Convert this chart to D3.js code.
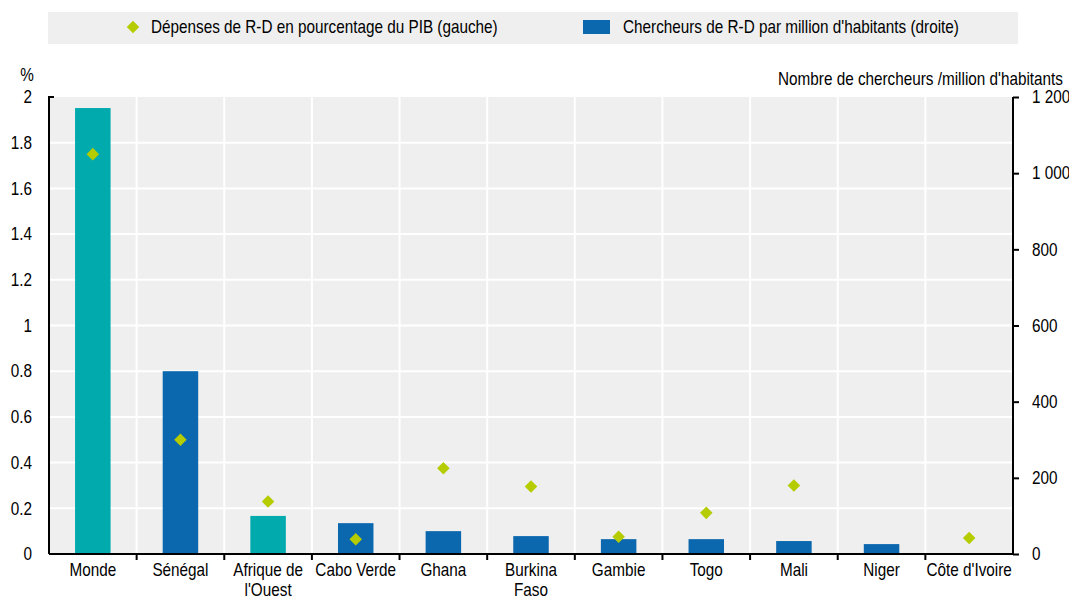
<!DOCTYPE html>
<html lang="fr">
<head>
<meta charset="utf-8">
<script src="https://cdn.jsdelivr.net/npm/d3@7"></script>
<style>
  html, body { margin: 0; padding: 0; background: #ffffff; }
  svg { display: block; }
  text { font-family: "Liberation Sans", Arial, sans-serif; fill: #000; }
</style>
</head>
<body>
<svg id="chart" width="1069" height="598"></svg>
<script>
// Pays et régions, dans l'ordre d'affichage
const categories = ["Monde", "Sénégal", "Afrique de l'Ouest", "Cabo Verde", "Ghana",
  "Burkina Faso", "Gambie", "Togo", "Mali", "Niger", "Côte d'Ivoire"];
// Libellés de l'axe des catégories (retour à la ligne)
const categoryLabels = [["Monde"], ["Sénégal"], ["Afrique de", "l'Ouest"], ["Cabo Verde"], ["Ghana"],
  ["Burkina", "Faso"], ["Gambie"], ["Togo"], ["Mali"], ["Niger"], ["Côte d'Ivoire"]];
// Chercheurs de R-D par million d'habitants (axe de droite)
const researchers = [1171, 480, 100, 81, 60, 47, 39, 39, 34, 26, null];
// Dépenses de R-D en % du PIB (axe de gauche)
const rdSpending = [1.75, 0.50, 0.23, 0.065, 0.375, 0.295, 0.075, 0.18, 0.30, null, 0.07];
// Agrégats affichés dans une couleur distincte
const aggregates = ["Monde", "Afrique de l'Ouest"];
// Graduations
const leftTicks = [0, 0.2, 0.4, 0.6, 0.8, 1, 1.2, 1.4, 1.6, 1.8, 2];
const rightTicks = [0, 200, 400, 600, 800, 1000, 1200];

const svg = d3.select("#chart");
const plot = { left: 49, right: 1013, top: 97, bottom: 554 };
const FS = 18;       // taille du texte
const SX = 0.85;     // compression horizontale (aspect « narrow »)
const TEAL = "#00aaad", BLUE = "#0b67ae", LIME = "#b5cc00", PANEL = "#efefef";

const x = d3.scaleBand().domain(categories).range([plot.left, plot.right]).padding(0);
const yLeft = d3.scaleLinear().domain([0, 2]).range([plot.bottom, plot.top]);
const yRight = d3.scaleLinear().domain([0, 1200]).range([plot.bottom, plot.top]);

const fmtLeft = d => String(d);
const fmtRight = d => d3.format(",")(d).replace(/,/g, " ");

// Texte condensé positionné en (tx, ty)
function label(parent, tx, ty, str, anchor = "start") {
  const g = parent.append("g").attr("transform", `translate(${tx},${ty}) scale(${SX},1)`);
  return g.append("text").attr("font-size", FS).attr("text-anchor", anchor).text(str);
}

// Légende
const legend = svg.append("g");
legend.append("rect").attr("x", 48).attr("y", 12).attr("width", 970).attr("height", 32).attr("fill", PANEL);
legend.append("path")
  .attr("d", d3.symbol(d3.symbolDiamond2, 100)())
  .attr("transform", "translate(133,27)")
  .attr("fill", LIME);
label(legend, 151, 33, "Dépenses de R-D en pourcentage du PIB (gauche)");
legend.append("rect").attr("x", 583).attr("y", 20).attr("width", 27).attr("height", 14).attr("fill", BLUE);
label(legend, 623, 33, "Chercheurs de R-D par million d'habitants (droite)");

// Fond de la zone de tracé
svg.append("rect")
  .attr("x", plot.left).attr("y", plot.top)
  .attr("width", plot.right - plot.left).attr("height", plot.bottom - plot.top)
  .attr("fill", PANEL);

// Quadrillage horizontal
svg.append("g").selectAll("line").data(leftTicks.slice(1, -1)).join("line")
  .attr("x1", plot.left).attr("x2", plot.right)
  .attr("y1", d => yLeft(d)).attr("y2", d => yLeft(d))
  .attr("stroke", "#ffffff").attr("stroke-width", 2);

// Séparateurs verticaux entre catégories
svg.append("g").selectAll("line").data(categories.slice(1)).join("line")
  .attr("x1", d => x(d)).attr("x2", d => x(d))
  .attr("y1", plot.top).attr("y2", plot.bottom)
  .attr("stroke", "#ffffff").attr("stroke-width", 2);

// Barres : chercheurs
const barW = x.bandwidth() * 0.405;
svg.append("g").selectAll("rect")
  .data(categories.map((c, i) => ({ c, v: researchers[i] })).filter(d => d.v != null))
  .join("rect")
  .attr("x", d => x(d.c) + (x.bandwidth() - barW) / 2)
  .attr("width", barW)
  .attr("y", d => yRight(d.v))
  .attr("height", d => yRight(0) - yRight(d.v))
  .attr("fill", d => aggregates.includes(d.c) ? TEAL : BLUE);

// Losanges : dépenses de R-D
svg.append("g").selectAll("path")
  .data(categories.map((c, i) => ({ c, v: rdSpending[i] })).filter(d => d.v != null))
  .join("path")
  .attr("d", d3.symbol(d3.symbolDiamond2, 100)())
  .attr("transform", d => `translate(${x(d.c) + x.bandwidth() / 2},${yLeft(d.v)})`)
  .attr("fill", LIME);

// Axe de gauche
const padL = 17;
const gLeft = svg.append("g").attr("transform", `translate(${plot.left},0)`)
  .call(d3.axisLeft(yLeft).tickValues(leftTicks).tickFormat(fmtLeft).tickSize(0).tickPadding(padL));
gLeft.select(".domain").remove();
gLeft.selectAll("text")
  .attr("font-size", FS).attr("font-family", null)
  .attr("x", -padL / SX).attr("transform", `scale(${SX},1)`);
svg.append("path")
  .attr("d", `M${plot.left + 5},${plot.top} H${plot.left} V${plot.bottom}`)
  .attr("fill", "none").attr("stroke", "#000").attr("stroke-width", 2);

// Axe de droite
const padR = 19;
const gRight = svg.append("g").attr("transform", `translate(${plot.right},0)`)
  .call(d3.axisRight(yRight).tickValues(rightTicks).tickFormat(fmtRight).tickSize(6).tickPadding(padR - 6));
gRight.select(".domain").attr("d", `M0,${plot.top}V${plot.bottom}`).attr("stroke-width", 2);
gRight.selectAll(".tick line").attr("stroke-width", 2);
gRight.selectAll("text")
  .attr("font-size", FS).attr("font-family", null)
  .attr("x", padR / SX).attr("transform", `scale(${SX},1)`);

// Axe des catégories
const gBottom = svg.append("g").attr("transform", `translate(0,${plot.bottom})`);
gBottom.append("line").attr("x1", plot.left).attr("x2", plot.right + 1)
  .attr("stroke", "#000").attr("stroke-width", 2);
gBottom.selectAll("line.sep").data(categories.slice(1)).join("line").attr("class", "sep")
  .attr("x1", d => x(d)).attr("x2", d => x(d)).attr("y1", 0).attr("y2", 6)
  .attr("stroke", "#000").attr("stroke-width", 2);
categories.forEach((c, i) => {
  categoryLabels[i].forEach((line, j) => {
    label(gBottom, x(c) + x.bandwidth() / 2, 22 + j * 20, line, "middle");
  });
});

// Titres des axes
label(svg, 27, 81, "%", "middle");
label(svg, 1063, 85, "Nombre de chercheurs /million d'habitants", "end");
</script>
</body>
</html>
